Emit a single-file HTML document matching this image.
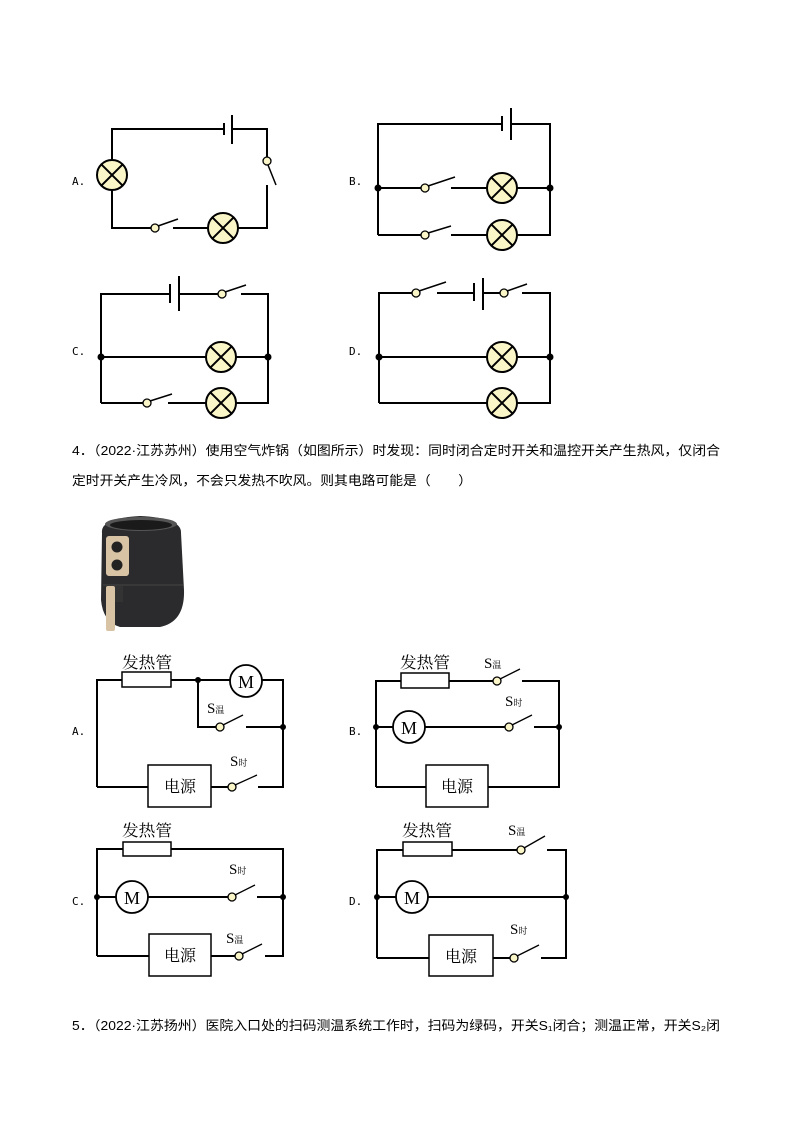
<!DOCTYPE html>
<html><head><meta charset="utf-8"><style>
html,body{margin:0;padding:0;background:#fff}
svg{display:block}
.w{stroke:#000;stroke-width:2;fill:none}
.lp{fill:#fbf6c8;stroke:#000;stroke-width:2}
.sw{fill:#fbf6c8;stroke:#000;stroke-width:1.3}
.t{font-family:"Liberation Sans","Noto Sans CJK SC",sans-serif;font-size:13px;fill:#000}
.s{font-family:"Liberation Serif","Noto Serif CJK SC",serif;fill:#000}
.lb{font-family:"DejaVu Sans Mono",monospace;font-size:11px;fill:#000}
</style></head><body>
<svg width="794" height="1123" viewBox="0 0 794 1123" xmlns="http://www.w3.org/2000/svg">
<defs>
<g id="lamp"><circle r="15" class="lp"/><path d="M-10.6,-10.6L10.6,10.6M10.6,-10.6L-10.6,10.6" stroke="#000" stroke-width="2"/></g>
</defs>

<!-- A top -->
<text class="lb" x="72" y="185">A.</text>
<path class="w" d="M112,160V129H224M232,129H267V157M267,185V228H238M208,228H173M151,228H112V190"/>
<path d="M224,123V135M232,115V144" stroke="#000" stroke-width="2"/>
<path d="M158,226L178,219M268,165L276,185" stroke="#000" stroke-width="1.5"/>
<circle cx="155" cy="228" r="4" class="sw"/><circle cx="267" cy="161" r="4" class="sw"/>
<use href="#lamp" x="112" y="175"/><use href="#lamp" x="223" y="228"/>

<!-- B top -->
<text class="lb" x="349" y="185">B.</text>
<path class="w" d="M378,235V124H502M511,124H550V235H517M487,235H451M421,235H378M378,188H421M451,188H487M517,188H550"/>
<path d="M502,116V131M511,108V140" stroke="#000" stroke-width="2"/>
<path d="M428,186L455,177M428,233L451,226" stroke="#000" stroke-width="1.5"/>
<circle cx="425" cy="188" r="4" class="sw"/><circle cx="425" cy="235" r="4" class="sw"/>
<use href="#lamp" x="502" y="188"/><use href="#lamp" x="502" y="235"/>
<circle cx="378" cy="188" r="3.5"/><circle cx="550" cy="188" r="3.5"/>

<!-- C top -->
<text class="lb" x="72" y="355">C.</text>
<path class="w" d="M101,403V294H170M179,294H218M241,294H268V403H236M206,403H168M143,403H101M101,357H206M236,357H268"/>
<path d="M170,284V303M179,276V311" stroke="#000" stroke-width="2"/>
<path d="M225,292L246,285M150,401L172,394" stroke="#000" stroke-width="1.5"/>
<circle cx="222" cy="294" r="4" class="sw"/><circle cx="147" cy="403" r="4" class="sw"/>
<use href="#lamp" x="221" y="357"/><use href="#lamp" x="221" y="403"/>
<circle cx="101" cy="357" r="3.5"/><circle cx="268" cy="357" r="3.5"/>

<!-- D top -->
<text class="lb" x="349" y="355">D.</text>
<path class="w" d="M379,403V293H412M437,293H474M483,293H500M522,293H550V403H517M487,403H379M379,357H487M517,357H550"/>
<path d="M474,283V301M483,278V310" stroke="#000" stroke-width="2"/>
<path d="M419,291L446,282M507,291L527,284" stroke="#000" stroke-width="1.5"/>
<circle cx="416" cy="293" r="4" class="sw"/><circle cx="504" cy="293" r="4" class="sw"/>
<use href="#lamp" x="502" y="357"/><use href="#lamp" x="502" y="403"/>
<circle cx="379" cy="357" r="3.5"/><circle cx="550" cy="357" r="3.5"/>

<!-- Q4 text -->
<text class="t" x="72" y="455" textLength="648" lengthAdjust="spacingAndGlyphs">4．（2022·江苏苏州）使用空气炸锅（如图所示）时发现：同时闭合定时开关和温控开关产生热风，仅闭合</text>
<text class="t" x="72" y="485" textLength="400" lengthAdjust="spacingAndGlyphs">定时开关产生冷风，不会只发热不吹风。则其电路可能是（　　）</text>

<!-- Air fryer -->
<g>
<path d="M102,533 Q100,518 140,516 Q182,518 181,533 L184,590 Q185,622 160,627 L120,627 Q103,622 101,600 Z" fill="#2b2b2d"/>
<ellipse cx="141" cy="524" rx="36" ry="7" fill="#555"/>
<ellipse cx="141" cy="525" rx="31" ry="5" fill="#1a1a1a"/>
<rect x="106" y="536" width="23" height="40" rx="3" fill="#d9c3a5"/>
<circle cx="117" cy="547" r="5.5" fill="#222"/><circle cx="117" cy="565" r="5.5" fill="#222"/>
<path d="M103,585 H183" stroke="#444" stroke-width="1"/>
<rect x="106" y="586" width="9" height="45" rx="2" fill="#d9c3a5"/>
<rect x="115" y="586" width="8" height="16" fill="#333"/>
</g>

<!-- Circuit A -->
<text class="lb" x="72" y="735">A.</text>
<text class="s" x="122" y="668" font-size="16" textLength="50" lengthAdjust="spacingAndGlyphs">发热管</text>
<rect x="122" y="672" width="49" height="15" fill="#fff" stroke="#000" stroke-width="1.5"/>
<path class="w" d="M97,787V680H122M171,680H230M262,680H283V787H258M228,787H211M148,787H97M198,680V727H216M246,727H283" stroke-width="1.8"/>
<path d="M223,725L243,715M235,785L257,775" stroke="#000" stroke-width="1.3"/>
<circle cx="246" cy="681" r="16" fill="#fff" stroke="#000" stroke-width="1.8"/>
<text class="s" x="246" y="688" font-size="18" text-anchor="middle">M</text>
<circle cx="220" cy="727" r="4" class="sw"/><circle cx="232" cy="787" r="4" class="sw"/>
<circle cx="198" cy="680" r="3"/><circle cx="283" cy="727" r="3"/>
<rect x="148" y="765" width="63" height="42" fill="#fff" stroke="#000" stroke-width="1.5"/>
<text class="s" x="180" y="792" font-size="16" text-anchor="middle">电源</text>
<text class="s" x="207" y="713" font-size="15">S<tspan font-size="9">温</tspan></text>
<text class="s" x="230" y="766" font-size="15">S<tspan font-size="9">时</tspan></text>

<!-- Circuit B -->
<text class="lb" x="349" y="735">B.</text>
<text class="s" x="400" y="668" font-size="16" textLength="50" lengthAdjust="spacingAndGlyphs">发热管</text>
<rect x="401" y="673" width="48" height="15" fill="#fff" stroke="#000" stroke-width="1.5"/>
<path class="w" d="M376,787V681H401M449,681H493M522,681H559V787H488M426,787H376M376,727H393M425,727H505M534,727H559" stroke-width="1.8"/>
<path d="M500,679L520,669M512,725L532,715" stroke="#000" stroke-width="1.3"/>
<circle cx="497" cy="681" r="4" class="sw"/><circle cx="509" cy="727" r="4" class="sw"/>
<circle cx="409" cy="727" r="16" fill="#fff" stroke="#000" stroke-width="1.8"/>
<text class="s" x="409" y="734" font-size="18" text-anchor="middle">M</text>
<circle cx="376" cy="727" r="3"/><circle cx="559" cy="727" r="3"/>
<rect x="426" y="765" width="62" height="42" fill="#fff" stroke="#000" stroke-width="1.5"/>
<text class="s" x="457" y="792" font-size="16" text-anchor="middle">电源</text>
<text class="s" x="484" y="668" font-size="15">S<tspan font-size="9">温</tspan></text>
<text class="s" x="505" y="706" font-size="15">S<tspan font-size="9">时</tspan></text>

<!-- Circuit C -->
<text class="lb" x="72" y="905">C.</text>
<text class="s" x="122" y="836" font-size="16" textLength="50" lengthAdjust="spacingAndGlyphs">发热管</text>
<rect x="123" y="842" width="48" height="14" fill="#fff" stroke="#000" stroke-width="1.5"/>
<path class="w" d="M97,956V849H123M171,849H283V956H265M235,956H211M149,956H97M97,897H116M148,897H228M257,897H283" stroke-width="1.8"/>
<path d="M235,895L255,885M242,954L262,944" stroke="#000" stroke-width="1.3"/>
<circle cx="232" cy="897" r="4" class="sw"/><circle cx="239" cy="956" r="4" class="sw"/>
<circle cx="132" cy="897" r="16" fill="#fff" stroke="#000" stroke-width="1.8"/>
<text class="s" x="132" y="904" font-size="18" text-anchor="middle">M</text>
<circle cx="97" cy="897" r="3"/><circle cx="283" cy="897" r="3"/>
<rect x="149" y="934" width="62" height="42" fill="#fff" stroke="#000" stroke-width="1.5"/>
<text class="s" x="180" y="961" font-size="16" text-anchor="middle">电源</text>
<text class="s" x="229" y="874" font-size="15">S<tspan font-size="9">时</tspan></text>
<text class="s" x="226" y="943" font-size="15">S<tspan font-size="9">温</tspan></text>

<!-- Circuit D -->
<text class="lb" x="349" y="905">D.</text>
<text class="s" x="402" y="836" font-size="16" textLength="50" lengthAdjust="spacingAndGlyphs">发热管</text>
<rect x="403" y="842" width="49" height="14" fill="#fff" stroke="#000" stroke-width="1.5"/>
<path class="w" d="M377,958V850H403M452,850H517M547,850H566V958H541M510,958H493M429,958H377M377,897H396M428,897H566" stroke-width="1.8"/>
<path d="M524,848L545,836M517,956L539,945" stroke="#000" stroke-width="1.3"/>
<circle cx="521" cy="850" r="4" class="sw"/><circle cx="514" cy="958" r="4" class="sw"/>
<circle cx="412" cy="897" r="16" fill="#fff" stroke="#000" stroke-width="1.8"/>
<text class="s" x="412" y="904" font-size="18" text-anchor="middle">M</text>
<circle cx="377" cy="897" r="3"/><circle cx="566" cy="897" r="3"/>
<rect x="429" y="935" width="64" height="41" fill="#fff" stroke="#000" stroke-width="1.5"/>
<text class="s" x="461" y="962" font-size="16" text-anchor="middle">电源</text>
<text class="s" x="508" y="835" font-size="15">S<tspan font-size="9">温</tspan></text>
<text class="s" x="510" y="934" font-size="15">S<tspan font-size="9">时</tspan></text>

<!-- Q5 -->
<text class="t" x="72" y="1030" textLength="648" lengthAdjust="spacingAndGlyphs">5．（2022·江苏扬州）医院入口处的扫码测温系统工作时，扫码为绿码，开关S₁闭合；测温正常，开关S₂闭</text>
</svg>
</body></html>
